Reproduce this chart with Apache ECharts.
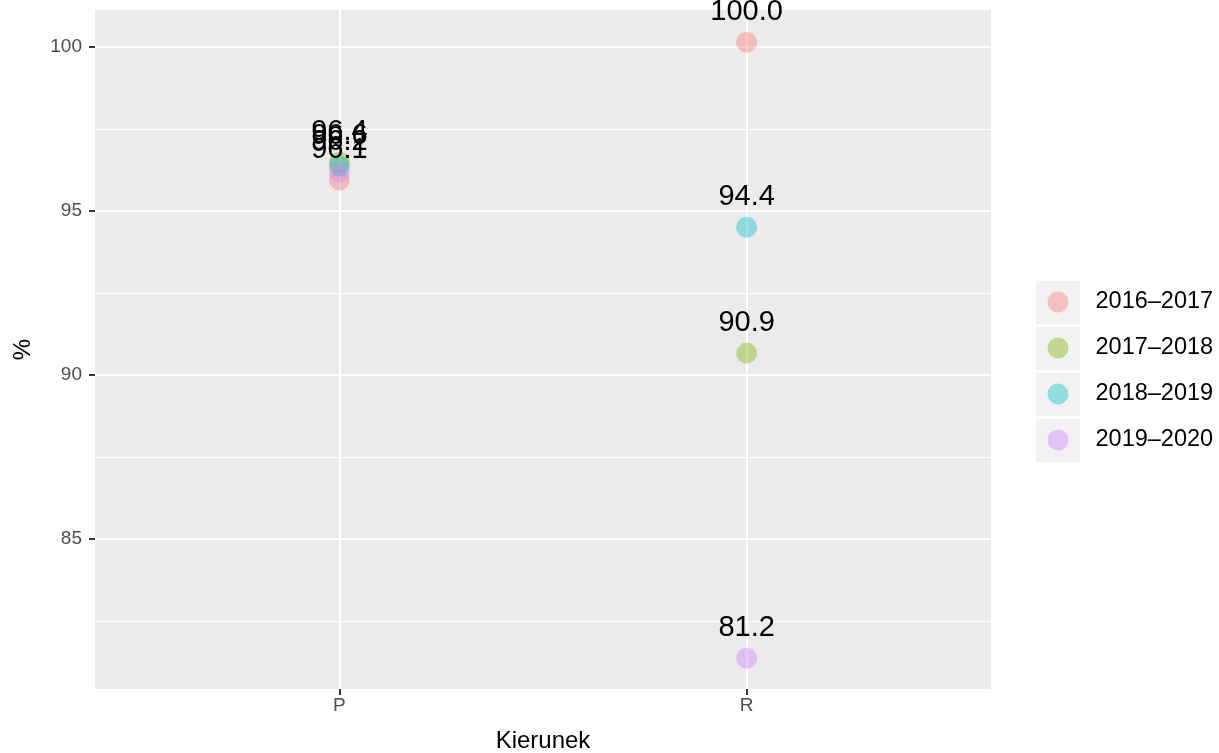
<!DOCTYPE html>
<html>
<head>
<meta charset="utf-8">
<script src="https://cdn.jsdelivr.net/npm/echarts@6/dist/echarts.min.js"></script>
<style>
html,body{margin:0;padding:0;background:#fff;}
#chart{width:1219px;height:753px;}
</style>
</head>
<body>
<div id="chart"></div>
<script>
// Categories on the x axis (placed at positions 1 and 2)
const categories = ['P', 'R'];
const categoryPositions = [1, 2];
// Series (academic years)
const seriesNames = ['2016–2017', '2017–2018', '2018–2019', '2019–2020'];
const seriesColors = ['rgba(248,118,109,0.4)', 'rgba(124,174,0,0.4)', 'rgba(0,191,196,0.4)', 'rgba(199,124,255,0.4)'];
// Values printed as labels, per series: [P, R]
const labels2016 = [96.1, 100.0];
const labels2017 = [96.4, 90.9];
const labels2018 = [96.6, 94.4];
const labels2019 = [96.2, 81.2];
// Plotted (vertically jittered) point positions, per series: [P, R]
const points2016 = [95.95, 100.15];
const points2017 = [96.49, 90.67];
const points2018 = [96.37, 94.51];
const points2019 = [96.19, 81.37];
// Axis ticks
const yMajorTicks = [85, 90, 95, 100];
const yMinorTicks = [82.5, 87.5, 92.5, 97.5];

const labelSets = [labels2016, labels2017, labels2018, labels2019];
const pointSets = [points2016, points2017, points2018, points2019];

const FONT = 'Liberation Sans, Arial, sans-serif';
const chart = echarts.init(document.getElementById('chart'), null, {renderer: 'canvas'});

const series = seriesNames.map((name, i) => ({
  name: name,
  type: 'scatter',
  xAxisIndex: 0,
  yAxisIndex: 0,
  symbol: 'circle',
  symbolSize: 21,
  itemStyle: {color: seriesColors[i], opacity: 1},
  emphasis: {disabled: true},
  label: {
    show: true,
    position: 'top',
    distance: 5,
    color: '#000000',
    opacity: 1,
    textBorderWidth: 0,
    fontSize: 29,
    fontFamily: FONT,
    formatter: p => labelSets[i][p.dataIndex].toFixed(1)
  },
  data: categoryPositions.map((x, j) => [x, pointSets[i][j]])
}));

const legendKeys = seriesNames.map((n, i) => ({
  type: 'rect',
  left: 1036,
  top: 281 + i * 46,
  shape: {width: 44, height: 43},
  style: {fill: '#F2F2F2'},
  z: -10
}));

chart.setOption({
  animation: false,
  backgroundColor: '#FFFFFF',
  grid: {
    left: 95, right: 228, top: 10, bottom: 64,
    outerBoundsMode: 'none',
    containLabel: false,
    show: true, backgroundColor: '#EBEBEB', borderWidth: 0
  },
  xAxis: {
    type: 'value',
    min: 0.4, max: 2.6,
    name: 'Kierunek',
    nameLocation: 'middle',
    nameGap: 40,
    nameTextStyle: {fontSize: 24, color: '#000', fontFamily: FONT},
    axisLine: {show: false},
    axisTick: {show: true, customValues: categoryPositions, length: 6, lineStyle: {color: '#333333', width: 2}},
    axisLabel: {
      customValues: categoryPositions,
      margin: 7,
      fontSize: 19, color: '#4D4D4D', fontFamily: FONT,
      formatter: v => categories[categoryPositions.indexOf(Math.round(v))] || ''
    },
    splitLine: {show: true, lineStyle: {color: '#FFFFFF', width: 2}}
  },
  yAxis: [{
    type: 'value',
    min: 80.43, max: 101.13,
    name: '%',
    nameLocation: 'middle',
    nameGap: 60,
    nameRotate: 90,
    nameTextStyle: {fontSize: 24, color: '#000', fontFamily: FONT},
    axisLine: {show: false},
    axisTick: {show: true, customValues: yMajorTicks, length: 6, lineStyle: {color: '#333333', width: 2}},
    axisLabel: {
      customValues: yMajorTicks,
      margin: 13,
      fontSize: 19, color: '#4D4D4D', fontFamily: FONT
    },
    splitLine: {show: true, lineStyle: {color: '#FFFFFF', width: 2}},
    z: 1
  }, {
    type: 'value',
    min: 80.43, max: 101.13,
    position: 'left',
    axisLine: {show: false},
    axisTick: {show: false, customValues: yMinorTicks},
    axisLabel: {show: false, customValues: yMinorTicks},
    splitLine: {show: true, lineStyle: {color: '#FFFFFF', width: 1}},
    z: 0
  }],
  legend: {
    orient: 'vertical',
    left: 1047.5,
    top: 290,
    padding: 0,
    icon: 'circle',
    itemWidth: 21,
    itemHeight: 21,
    itemGap: 22,
    selectedMode: false,
    data: seriesNames,
    textStyle: {fontSize: 23.5, color: '#000', fontFamily: FONT, lineHeight: 21, padding: [0, 0, 0, 22]}
  },
  graphic: legendKeys,
  series: series
});
</script>
</body>
</html>
